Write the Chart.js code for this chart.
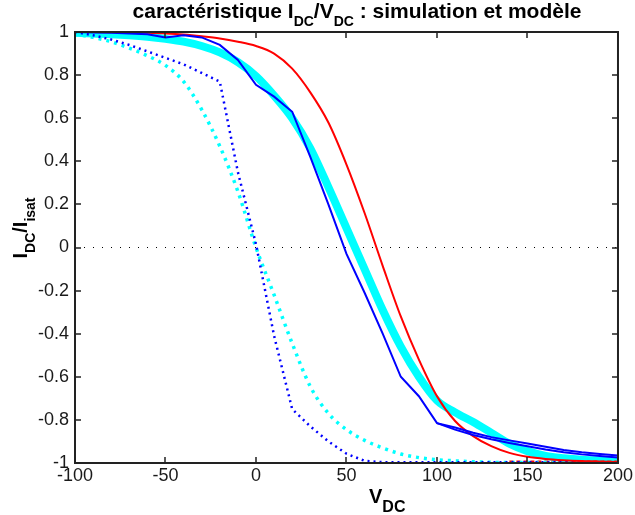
<!DOCTYPE html>
<html>
<head>
<meta charset="utf-8">
<title>caractéristique IDC/VDC</title>
<script src="https://cdn.jsdelivr.net/npm/chart.js@4.4.1/dist/chart.umd.min.js"></script>
<style>
  html, body { margin: 0; padding: 0; background: #fff; }
  canvas { display: block; }
</style>
</head>
<body>
<canvas id="chart" width="635" height="515"></canvas>
<script>
// VDC grid shared by every curve (step 10 V)
const vdc = [-100, -90, -80, -70, -60, -50, -40, -30, -20, -10, 0, 10, 20, 30, 40, 50,
             60, 70, 80, 90, 100, 110, 120, 130, 140, 150, 160, 170, 180, 190, 200];

// simulation (blue solid, piecewise)
const simBlue = [1.0, 0.998, 0.996, 0.993, 0.99, 0.975, 0.985, 0.975, 0.94, 0.87, 0.755, 0.70, 0.63,
                 0.42, 0.20, -0.03, -0.21, -0.40, -0.60, -0.69, -0.815, -0.835, -0.86, -0.88, -0.895,
                 -0.91, -0.925, -0.94, -0.95, -0.958, -0.965];
// second blue trace merging on the tail
const simBlueTail = [null, null, null, null, null, null, null, null, null, null, null, null, null,
                     null, null, null, null, null, null, null, -0.815, -0.845, -0.87, -0.89, -0.907,
                     -0.922, -0.937, -0.95, -0.96, -0.968, -0.975];
// model (red solid)
const modelRed = [1.0, 1.0, 0.999, 0.998, 0.996, 0.993, 0.988, 0.98, 0.97, 0.955, 0.935, 0.90, 0.83,
                  0.72, 0.58, 0.385, 0.16, -0.085, -0.32, -0.52, -0.69, -0.805, -0.875, -0.922, -0.953,
                  -0.971, -0.981, -0.987, -0.991, -0.993, -0.995];
// wide cyan band
const cyanBand = [0.997, 0.993, 0.99, 0.985, 0.978, 0.968, 0.955, 0.935, 0.905, 0.86, 0.795, 0.705, 0.60,
                  0.46, 0.28, 0.09, -0.10, -0.29, -0.46, -0.60, -0.71, -0.765, -0.81, -0.86, -0.91,
                  -0.945, -0.967, -0.978, -0.985, -0.988, -0.99];
// dotted curves
const cyanDotted = [0.99, 0.975, 0.955, 0.925, 0.89, 0.845, 0.77, 0.64, 0.47, 0.26, 0.0, -0.22, -0.445,
                    -0.645, -0.77, -0.845, -0.895, -0.93, -0.958, -0.975, -0.985, -0.99, -0.994, -0.997, -0.998,
                    -0.998, -0.998, -0.998, -0.998, -0.998, -0.998];
const blueDotted = [1.0, 0.985, 0.965, 0.94, 0.91, 0.88, 0.85, 0.81, 0.77, 0.35, 0.015, -0.41, -0.75,
                    -0.83, -0.90, -0.957, -0.99, -0.996, -0.997, -0.997, -0.997, -0.997, -0.997, -0.997, -0.997,
                    -0.997, -0.997, -0.997, -0.997, -0.997, -0.997];
const redDotted = [null, null, null, null, null, null, null, null, null, null, null, null, null,
                   null, null, null, null, null, null, null, null, null, null, null, -0.995,
                   -0.995, -0.995, -0.995, -0.995, -0.995, -0.995];

const xTicks = [-100, -50, 0, 50, 100, 150, 200];
const yTicks = [-1, -0.8, -0.6, -0.4, -0.2, 0, 0.2, 0.4, 0.6, 0.8, 1];
const yTickLabels = ['-1', '-0.8', '-0.6', '-0.4', '-0.2', '0', '0.2', '0.4', '0.6', '0.8', '1'];

const FONT = '"Liberation Sans", Arial, Helvetica, sans-serif';
const INK = '#1a1a1a';

function pts(arr) {
    return vdc.map((v, i) => ({ x: v, y: arr[i] }));
}

// draw text made of parts, some of them subscripts
function drawRich(ctx, parts, x, y, align) {
    let total = 0;
    parts.forEach(p => {
        ctx.font = 'bold ' + p.size + 'px ' + FONT;
        p.w = ctx.measureText(p.text).width;
        total += p.w;
    });
    let cx = align === 'center' ? x - total / 2 : x;
    ctx.textAlign = 'left';
    ctx.textBaseline = 'alphabetic';
    parts.forEach(p => {
        ctx.font = 'bold ' + p.size + 'px ' + FONT;
        ctx.fillText(p.text, cx, y + (p.dy || 0));
        cx += p.w;
    });
}

const framePlugin = {
    id: 'matlabFrame',
    afterDraw(chart) {
        const ctx = chart.ctx;
        const a = chart.chartArea;
        const xs = chart.scales.x, ys = chart.scales.y;
        ctx.save();
        ctx.strokeStyle = '#222';
        ctx.lineWidth = 2;
        ctx.strokeRect(a.left, a.top, a.right - a.left, a.bottom - a.top);
        // inward ticks on all four sides
        const tl = 6;
        ctx.beginPath();
        xTicks.forEach(v => {
            const px = Math.round(xs.getPixelForValue(v));
            ctx.moveTo(px, a.bottom); ctx.lineTo(px, a.bottom - tl);
            ctx.moveTo(px, a.top); ctx.lineTo(px, a.top + tl);
        });
        yTicks.forEach(v => {
            const py = Math.round(ys.getPixelForValue(v));
            ctx.moveTo(a.left, py); ctx.lineTo(a.left + tl, py);
            ctx.moveTo(a.right, py); ctx.lineTo(a.right - tl, py);
        });
        ctx.lineWidth = 1.5;
        ctx.stroke();

        ctx.fillStyle = '#000';
        // title
        drawRich(ctx, [
            { text: 'caractéristique I', size: 21 },
            { text: 'DC', size: 14, dy: 8 },
            { text: '/V', size: 21 },
            { text: 'DC', size: 14, dy: 8 },
            { text: ' : simulation et modèle', size: 21 }
        ], 357, 18, 'center');
        // x label
        drawRich(ctx, [
            { text: 'V', size: 20 },
            { text: 'DC', size: 16, dy: 9 }
        ], 369, 503, 'left');
        // y label, rotated
        ctx.translate(27, 228);
        ctx.rotate(-Math.PI / 2);
        drawRich(ctx, [
            { text: 'I', size: 20 },
            { text: 'DC', size: 14, dy: 8 },
            { text: '/I', size: 20 },
            { text: 'isat', size: 14, dy: 8 }
        ], 0, 0, 'center');
        ctx.restore();
    }
};

function line(data, color, width, dash, tension) {
    return {
        data: pts(data),
        borderColor: color,
        borderWidth: width,
        borderDash: dash || [],
        pointRadius: 0,
        tension: tension || 0,
        cubicInterpolationMode: tension ? 'monotone' : 'default',
        spanGaps: false,
        fill: false
    };
}

new Chart(document.getElementById('chart'), {
    type: 'line',
    data: {
        datasets: [
            // first dataset is drawn on top
            line(simBlue, '#0000ff', 2, null, 0),
            line(simBlueTail, '#0000ff', 2, null, 0),
            line(modelRed, '#ff0000', 2, null, 0.4),
            line(blueDotted, '#0000ff', 2.5, [2, 4], 0),
            line(cyanDotted, '#00ffff', 3.5, [3, 5], 0.4),
            line(redDotted, '#ff0000', 3, [4, 3], 0),
            line(cyanBand, '#00ffff', 8, null, 0.4),
            {
                data: [{ x: -100, y: 0 }, { x: 200, y: 0 }],
                borderColor: '#000',
                borderWidth: 1,
                borderDash: [1, 8],
                pointRadius: 0,
                fill: false
            }
        ]
    },
    options: {
        responsive: false,
        devicePixelRatio: 1,
        animation: false,
        events: [],
        layout: { padding: { left: 0, right: 14, top: 32, bottom: 0 } },
        plugins: {
            legend: { display: false },
            tooltip: { enabled: false },
            title: { display: false }
        },
        scales: {
            x: {
                type: 'linear',
                min: -100,
                max: 200,
                afterBuildTicks: s => { s.ticks = xTicks.map(v => ({ value: v })); },
                afterFit: s => { s.height = 52; },
                grid: { display: false, drawTicks: false },
                border: { display: false },
                ticks: {
                    font: { family: FONT, size: 18 },
                    color: INK,
                    padding: 2,
                    maxRotation: 0,
                    autoSkip: false,
                    callback: v => String(v)
                }
            },
            y: {
                type: 'linear',
                min: -1,
                max: 1,
                afterBuildTicks: s => { s.ticks = yTicks.map(v => ({ value: v })); },
                afterFit: s => { s.width = 75; },
                grid: { display: false, drawTicks: false },
                border: { display: false },
                ticks: {
                    font: { family: FONT, size: 18 },
                    color: INK,
                    padding: 6,
                    autoSkip: false,
                    callback: (v, i) => yTickLabels[i]
                }
            }
        }
    },
    plugins: [framePlugin]
});
</script>
</body>
</html>
